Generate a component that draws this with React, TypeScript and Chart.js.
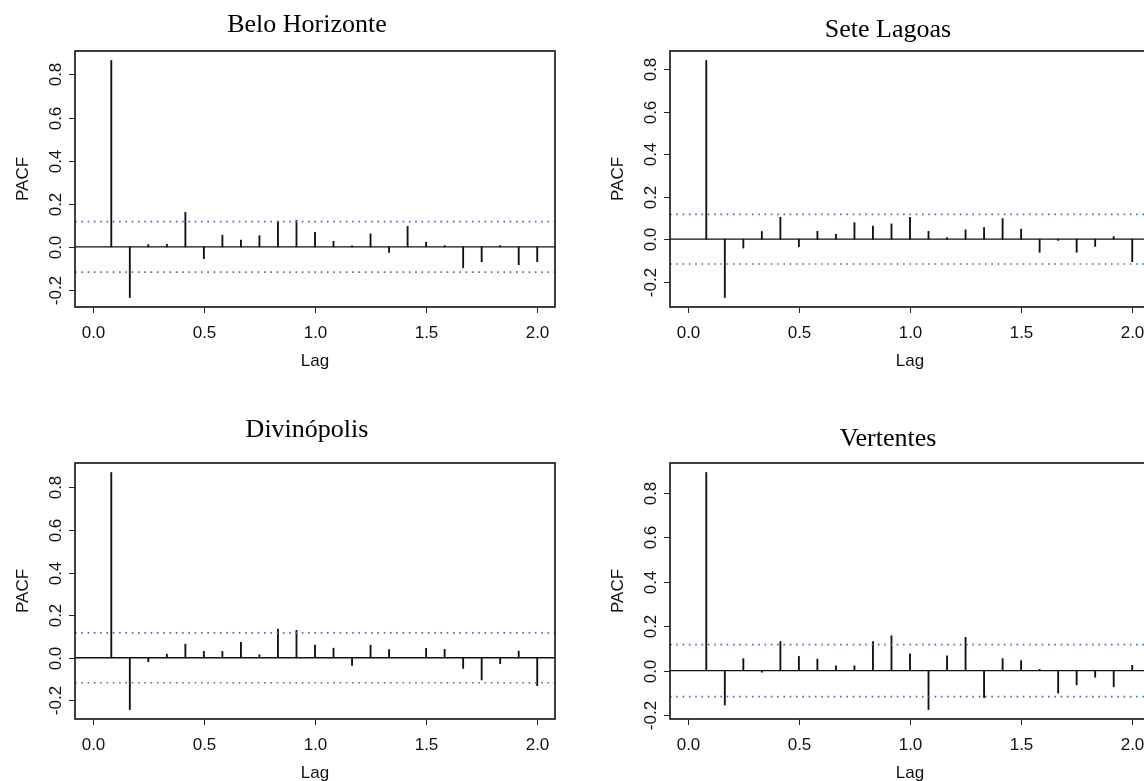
import React, { useEffect, useRef } from "react";
import { Chart, registerables } from "chart.js";

Chart.register(...registerables);

// ---- data ----
const lags = [
  0.0833, 0.1667, 0.25, 0.3333, 0.4167, 0.5, 0.5833, 0.6667, 0.75, 0.8333, 0.9167, 1.0,
  1.0833, 1.1667, 1.25, 1.3333, 1.4167, 1.5, 1.5833, 1.6667, 1.75, 1.8333, 1.9167, 2.0,
];

const pacfBeloHorizonte = [
  0.865, -0.235, 0.011, 0.012, 0.16, -0.055, 0.054, 0.032, 0.052, 0.118, 0.123, 0.068,
  0.026, 0.005, 0.06, -0.026, 0.095, 0.022, 0.006, -0.097, -0.069, 0.006, -0.083, -0.069,
];
const pacfSeteLagoas = [
  0.842, -0.275, -0.042, 0.036, 0.103, -0.036, 0.037, 0.023, 0.078, 0.062, 0.072, 0.103,
  0.037, 0.008, 0.044, 0.055, 0.097, 0.047, -0.062, -0.006, -0.062, -0.034, 0.012, -0.106,
];
const pacfDivinopolis = [
  0.87, -0.243, -0.019, 0.017, 0.064, 0.03, 0.03, 0.072, 0.014, 0.135, 0.129, 0.059,
  0.045, -0.036, 0.059, 0.039, 0.002, 0.044, 0.04, -0.05, -0.104, -0.028, 0.031, -0.131,
];
const pacfVertentes = [
  0.892, -0.155, 0.054, -0.007, 0.131, 0.064, 0.052, 0.022, 0.022, 0.131, 0.157, 0.076,
  -0.175, 0.067, 0.15, -0.122, 0.054, 0.045, 0.006, -0.101, -0.064, -0.03, -0.073, 0.024,
];

const panelTitles = ["Belo Horizonte", "Sete Lagoas", "Divinópolis", "Vertentes"];
const xTickValues = [0, 0.5, 1.0, 1.5, 2.0];
const yTickValues = [-0.2, 0, 0.2, 0.4, 0.6, 0.8];
const ciLimit = 0.117;
const xAxisMin = -0.08;
const xAxisMax = 2.08;
const xLabel = "Lag";
const yLabel = "PACF";

// ---- layout ----
const CANVAS_W = 596;
const CANVAS_H = 412;
const PAD = { left: 75, top: 51, right: 41, bottom: 105 };

const rStylePlugin = {
  id: "rStyle",
  afterDraw(chart: any, _args: any, opts: any) {
    const { ctx, chartArea: a } = chart;
    const xs = chart.scales.x;
    const ys = chart.scales.y;
    ctx.save();
    // box
    ctx.strokeStyle = "#111";
    ctx.lineWidth = 1.6;
    ctx.strokeRect(a.left, a.top, a.right - a.left, a.bottom - a.top);

    ctx.lineWidth = 1;
    ctx.strokeStyle = "#222";
    ctx.fillStyle = "#111";
    ctx.font = '17px "Liberation Sans", Arial, sans-serif';
    ctx.textAlign = "center";
    ctx.textBaseline = "alphabetic";

    // x ticks
    xTickValues.forEach((v) => {
      const px = Math.round(xs.getPixelForValue(v)) + 0.5;
      ctx.beginPath();
      ctx.moveTo(px, a.bottom);
      ctx.lineTo(px, a.bottom + 6);
      ctx.stroke();
      ctx.fillText(v.toFixed(1), px, a.bottom + 31);
    });
    ctx.fillText(xLabel, (a.left + a.right) / 2, a.bottom + 59);

    // y ticks
    yTickValues.forEach((v) => {
      if (v < ys.min || v > ys.max) return;
      const py = Math.round(ys.getPixelForValue(v)) + 0.5;
      ctx.beginPath();
      ctx.moveTo(a.left - 6, py);
      ctx.lineTo(a.left, py);
      ctx.stroke();
      ctx.save();
      ctx.translate(a.left - 14, py);
      ctx.rotate(-Math.PI / 2);
      ctx.fillText(v.toFixed(1), 0, 0);
      ctx.restore();
    });
    ctx.save();
    ctx.translate(a.left - 47, (a.top + a.bottom) / 2);
    ctx.rotate(-Math.PI / 2);
    ctx.fillText(yLabel, 0, 0);
    ctx.restore();

    // title
    ctx.font = '26px "Liberation Serif", "Times New Roman", serif';
    ctx.fillStyle = "#000";
    ctx.fillText(opts.title, opts.titleX, opts.titleY);
    ctx.restore();
  },
};

type PanelProps = {
  values: number[];
  title: string;
  left: number;
  top: number;
  titleX: number;
  titleY: number;
};

function PacfPanel({ values, title, left, top, titleX, titleY }: PanelProps) {
  const ref = useRef<HTMLCanvasElement | null>(null);
  useEffect(() => {
    if (!ref.current) return;
    const lo = Math.min(...values, -ciLimit);
    const hi = Math.max(...values, ciLimit);
    const ext = (hi - lo) * 0.04;
    const limLine = (v: number) => [
      { x: xAxisMin, y: v },
      { x: xAxisMax, y: v },
    ];
    const chart = new Chart(ref.current, {
      type: "bar",
      data: {
        datasets: [
          {
            type: "bar",
            data: lags.map((l, i) => ({ x: l, y: values[i] })),
            backgroundColor: "#111",
            borderWidth: 0,
            barThickness: 1.2,
            order: 2,
          } as any,
          {
            type: "line",
            data: limLine(0),
            borderColor: "#111",
            borderWidth: 1.4,
            pointRadius: 0,
            order: 1,
          } as any,
          {
            type: "line",
            data: limLine(ciLimit),
            borderColor: "#3f6fb3",
            borderWidth: 1.6,
            borderDash: [1.6, 4.7],
            pointRadius: 0,
            order: 1,
          } as any,
          {
            type: "line",
            data: limLine(-ciLimit),
            borderColor: "#3f6fb3",
            borderWidth: 1.6,
            borderDash: [1.6, 4.7],
            pointRadius: 0,
            order: 1,
          } as any,
        ],
      },
      options: {
        responsive: false,
        animation: false,
        devicePixelRatio: 1,
        layout: { padding: PAD },
        plugins: {
          legend: { display: false },
          tooltip: { enabled: false },
          title: { display: false },
          rStyle: { title, titleX, titleY },
        } as any,
        scales: {
          x: { type: "linear", min: xAxisMin, max: xAxisMax, display: false, offset: false },
          y: { type: "linear", min: lo - ext, max: hi + ext, display: false },
        },
      },
      plugins: [rStylePlugin],
    } as any);
    return () => chart.destroy();
  }, [values, title, titleX, titleY]);

  return (
    <canvas
      ref={ref}
      width={CANVAS_W}
      height={CANVAS_H}
      style={{ position: "absolute", left, top, width: CANVAS_W, height: CANVAS_H }}
    />
  );
}

export default function App() {
  return (
    <div
      style={{
        position: "absolute",
        left: 0,
        top: 0,
        width: 1144,
        height: 781,
        overflow: "hidden",
        background: "#fff",
      }}
    >
      <PacfPanel values={pacfBeloHorizonte} title={panelTitles[0]} left={0} top={0} titleX={307} titleY={32} />
      <PacfPanel values={pacfSeteLagoas} title={panelTitles[1]} left={595} top={0} titleX={293} titleY={37} />
      <PacfPanel values={pacfDivinopolis} title={panelTitles[2]} left={0} top={412} titleX={307} titleY={25} />
      <PacfPanel values={pacfVertentes} title={panelTitles[3]} left={595} top={412} titleX={293} titleY={34} />
    </div>
  );
}
